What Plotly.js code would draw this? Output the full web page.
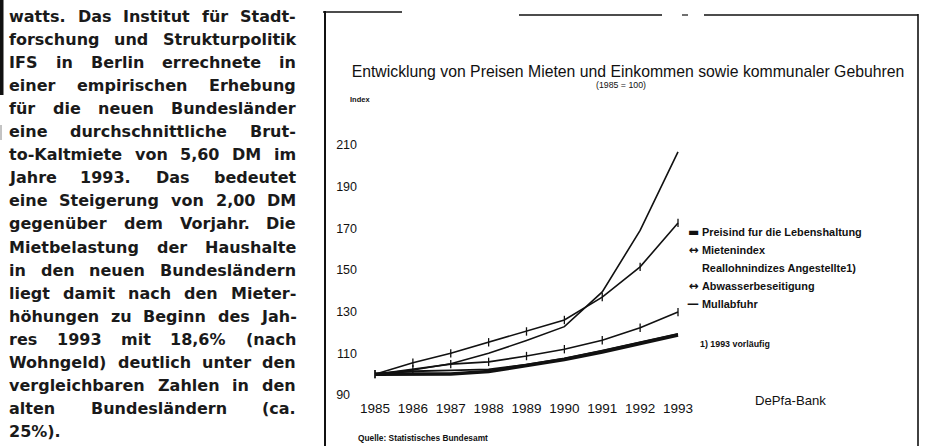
<!DOCTYPE html>
<html><head><meta charset="utf-8">
<script src="https://cdn.plot.ly/plotly-3.0.1.min.js"></script>
<style>html,body{margin:0;padding:0;background:#fff;overflow:hidden}#chart{width:928px;height:446px}</style>
</head><body><div id="chart"></div>
<script>
// ---------- data ----------
const years = [1985, 1986, 1987, 1988, 1989, 1990, 1991, 1992, 1993];
const xTickLabels = ['1985', '1986', '1987', '1988', '1989', '1990', '1991', '1992', '1993'];
const yTickValues = [90, 110, 130, 150, 170, 190, 210];
const yTickLabels = ['90\u2007', '110', '130', '150', '170', '190', '210'];
const preisindex = [100, 99.9, 100.1, 101.3, 104.1, 107.0, 110.7, 114.8, 118.8];
const mietenindex = [100, 102.4, 104.8, 105.9, 108.7, 112.0, 116.3, 122.3, 129.8];
const reallohn = [100, 101.4, 101.8, 102.3, 104.6, 107.6, 111.3, 115.4, 119.3];
const abwasser = [100, 105.5, 110.0, 115.3, 120.5, 126.0, 137.0, 151.5, 172.6];
const muellabfuhr = [100, 102.0, 105.0, 110.0, 116.2, 122.8, 139.5, 169.0, 206.7];
const seriesNames = ['Preisind fur die Lebenshaltung', 'Mietenindex', 'Reallohnindizes Angestellte1)', 'Abwasserbeseitigung', 'Mullabfuhr'];
const legendSymbols = ['\u25AC', '\u2194\uFE0E', '', '\u2194\uFE0E', '\u2014'];
const titleText = 'Entwicklung von Preisen Mieten und Einkommen sowie kommunaler Gebuhren';
const subtitleText = '(1985 = 100)';
const yLabelText = 'Index';
const footnoteText = '1) 1993 vorläufig';
const sourceText = 'Quelle: Statistisches Bundesamt';
const brandText = 'DePfa-Bank';
const bodyLines = [
  'watts. Das Institut für Stadt-',
  'forschung und Strukturpolitik',
  'IFS in Berlin errechnete in',
  'einer empirischen Erhebung',
  'für die neuen Bundesländer',
  'eine durchschnittliche Brut-',
  'to-Kaltmiete von 5,60 DM im',
  'Jahre 1993. Das bedeutet',
  'eine Steigerung von 2,00 DM',
  'gegenüber dem Vorjahr. Die',
  'Mietbelastung der Haushalte',
  'in den neuen Bundesländern',
  'liegt damit nach den Mieter-',
  'höhungen zu Beginn des Jah-',
  'res 1993 mit 18,6% (nach',
  'Wohngeld) deutlich unter den',
  'vergleichbaren Zahlen in den',
  'alten Bundesländern (ca.',
  '25%).'
];

// ---------- geometry helpers ----------
const W = 928, H = 446;
const PL = 372, PR = 690, PT = 145, PB = 395;
const px = x => (x - PL) / (PR - PL);
const py = y => (PB - y) / (PB - PT);
const SANS = 'Liberation Sans, Arial, sans-serif';
const BODY = 'DejaVu Sans, sans-serif';
const cv = document.createElement('canvas').getContext('2d');
function measure(text, font) { cv.font = font; return cv.measureText(text).width; }
function fitSize(text, width, weight, fam) { return 100 * width / measure(text, (weight || '') + ' 100px ' + fam); }

// ---------- traces ----------
const ink = '#111';
const traces = [
  {x: years, y: muellabfuhr, name: seriesNames[4], mode: 'lines', line: {color: ink, width: 1.6}},
  {x: years, y: abwasser, name: seriesNames[3], mode: 'lines+markers', line: {color: ink, width: 1.6},
   marker: {symbol: 'line-ns', size: 6, line: {color: ink, width: 1.3}}},
  {x: years, y: mietenindex, name: seriesNames[1], mode: 'lines+markers', line: {color: ink, width: 1.6},
   marker: {symbol: 'line-ns', size: 6, line: {color: ink, width: 1.3}}},
  {x: years, y: reallohn, name: seriesNames[2], mode: 'lines', line: {color: ink, width: 1.8}},
  {x: years, y: preisindex, name: seriesNames[0], mode: 'lines', line: {color: ink, width: 3.6}}
];

// ---------- annotations ----------
const ann = [];
function A(text, x, y, size, opts) {
  ann.push(Object.assign({text: text, x: px(x), y: py(y), xref: 'paper', yref: 'paper', showarrow: false,
    xanchor: 'left', yanchor: 'middle', borderpad: 0, borderwidth: 0,
    font: {family: SANS, size: size, color: ink}}, opts || {}));
}
const subSize = fitSize(subtitleText, 50, '', '"Liberation Sans"');
A(subtitleText, 621, 85, subSize, {xanchor: 'center'});
A(yLabelText, 350, 99, 7.5, {font: {family: SANS, size: 7.5, color: ink, weight: 'bold'}});
const legSize = fitSize(seriesNames[0], 160, 'bold', '"Liberation Sans"');
const legY = [232, 250, 268, 286, 304];
seriesNames.forEach((n, i) => {
  A(n, 702, legY[i], legSize, {font: {family: SANS, size: legSize, color: ink, weight: 'bold'}});
  if (legendSymbols[i]) A(legendSymbols[i], 699, legY[i], legSize + 1, {xanchor: 'right', font: {family: BODY, size: legSize + 1, color: ink, weight: 'bold'}});
});
const fnSize = fitSize(footnoteText, 70, 'bold', '"Liberation Sans"');
A(footnoteText, 700, 344, fnSize, {font: {family: SANS, size: fnSize, color: ink, weight: 'bold'}});
const brandSize = fitSize(brandText, 71, '', '"Liberation Sans"');
A(brandText, 755, 400, brandSize);
const srcSize = fitSize(sourceText, 130, 'bold', '"Liberation Sans"');
A(sourceText, 358, 438, srcSize, {font: {family: SANS, size: srcSize, color: ink, weight: 'bold'}});

// body text, justified word by word
const bodySize = 16;
const bodyFont = 'bold ' + bodySize + 'px "DejaVu Sans"';
const TL = 9, TR = 296, TY0 = 16, TDY = 23.1;
bodyLines.forEach((line, li) => {
  const words = line.split(' ');
  const widths = words.map(w => measure(w, bodyFont));
  const total = widths.reduce((a, b) => a + b, 0);
  const last = li === bodyLines.length - 1;
  const gap = (!last && words.length > 1) ? (TR - TL - total) / (words.length - 1) : measure(' ', bodyFont);
  let x = TL;
  words.forEach((w, wi) => {
    A(w, x, TY0 + li * TDY, bodySize, {font: {family: BODY, size: bodySize, color: '#1a1a1a', weight: 'bold'}});
    x += widths[wi] + gap;
  });
});

// ---------- shapes (frame, scan marks) ----------
const shapes = [];
function L(x0, y0, x1, y1, w, c) {
  shapes.push({type: 'line', xref: 'paper', yref: 'paper', x0: px(x0), y0: py(y0), x1: px(x1), y1: py(y1),
    line: {color: c || ink, width: w}});
}
L(325, 11, 325, 446, 2);
L(918, 14, 918, 446, 1.6);
L(323, 12, 402, 12, 1.4);
L(519, 15, 662, 15, 1.6);
L(682, 15, 688, 15, 1.2);
L(704, 15, 918, 15, 1.6);
shapes.push({type: 'rect', xref: 'paper', yref: 'paper', x0: px(0), x1: px(3.5), y0: py(0), y1: py(95),
  fillcolor: ink, line: {width: 0}});
L(1, 125, 1, 140, 1, '#888');

const titleSize = fitSize(titleText, 553, '', '"Liberation Sans"');
const layout = {
  width: W, height: H,
  margin: {l: PL, r: W - PR, t: PT, b: H - PB, pad: 0},
  paper_bgcolor: '#fff', plot_bgcolor: '#fff',
  showlegend: false,
  title: {text: titleText, x: 628 / W, xanchor: 'center', xref: 'container', y: 1 - 71 / H, yanchor: 'middle', yref: 'container',
    font: {family: SANS, size: titleSize, color: ink}},
  xaxis: {range: [1985 - 3 / 37.875, 1985 - 3 / 37.875 + (PR - PL) / 37.875], tickvals: years, ticktext: xTickLabels,
    showgrid: false, zeroline: false, showline: false, ticks: '', ticklabelstandoff: 3,
    tickfont: {family: SANS, size: 13.5, color: ink}},
  yaxis: {range: [90, 210], tickvals: yTickValues, ticktext: yTickLabels, showgrid: false, zeroline: false, showline: false, ticks: '',
    ticklabelstandoff: 14, tickfont: {family: SANS, size: 12.5, color: ink}},
  annotations: ann,
  shapes: shapes
};
Plotly.newPlot('chart', traces, layout, {staticPlot: true, displayModeBar: false});
</script></body></html>
